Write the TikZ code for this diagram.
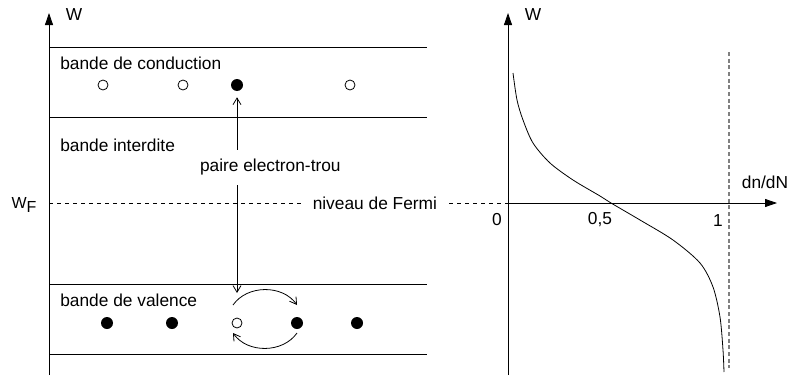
\documentclass[tikz,border=0pt]{standalone}
\usepackage{fontspec}
\setmainfont{Liberation Sans}
\usetikzlibrary{arrows.meta,calc}
\definecolor{DashGray}{RGB}{128,128,128}

\begin{document}
\begin{tikzpicture}[x=0.75pt,y=-0.75pt,
font=\fontsize{13}{15}\selectfont,
band/.style={draw,line width=0.6pt},
elec/.style={circle,fill=black,inner sep=0pt,minimum size=9pt},
hole/.style={circle,draw,fill=white,inner sep=0pt,minimum size=7.5pt,line width=0.6pt},
axis/.style={line width=0.6pt,-{Triangle[length=9pt,width=6pt]}},
barb/.style={line width=0.6pt,-{Straight Barb[length=5pt,width=6pt]}},
pair/.style={line width=0.6pt,{Straight Barb[length=5pt,width=6pt]}-{Straight Barb[length=5pt,width=6pt]}},
fermi/.style={line width=0.6pt,dash pattern=on 3pt off 3pt},
lab/.style={anchor=west,inner sep=0pt}
]
\useasboundingbox (0,0) rectangle (793,382);

% bandes
\draw[axis] (49,375) -- (49,13);
\node (w1) at (74,15) {W};
\draw[band] (49,47) -- (427,47);
\draw[band] (49,117) -- (427,117);
\draw[band] (49,284) -- (427,284);
\draw[band] (49,354) -- (427,354);
\node[lab] (cond) at (60,63) {bande de conduction};
\node[lab] (inter) at (60,145) {bande interdite};
\node[lab] (val) at (60,300) {bande de valence};

% electrons et trous
\foreach \x/\n in {103/1,183/2,350/4} \node[hole] (c\n) at (\x,85) {};
\node[elec] (c3) at (237,85) {};
\foreach \x/\n in {107/1,172/2,297/4,357/5} \node[elec] (v\n) at (\x,323) {};
\node[hole] (v3) at (237,323) {};

\coordinate (pbot) at (237,293);
\draw[pair,shorten <=4.5pt] (c3) -- node[pos=.376,xshift=25pt,fill=white,inner xsep=1pt,inner ysep=7pt] (pr) {paire electron-trou} (pbot);
\draw[barb] ([shift={(-4,-18)}]v3.center) to[bend left=55] ([shift={(0,-18)}]v4.center);
\draw[barb] ([shift={(0,10)}]v4.center) to[bend left=55] ([shift={(-4,10)}]v3.center);

% niveau de Fermi
\node (wf) at (24,205) {\fontsize{12}{14}\selectfont W\raisebox{-0.45ex}{F}};
\coordinate (f0) at (49,203);
\coordinate (o) at (508,203);
\draw[fermi] (f0) -- node[pos=.71,fill=white,inner xsep=6pt] (nf) {niveau de Fermi} (o);

% distribution
\draw[axis] (508,375) -- (508,13);
\node (w2) at (533,15) {W};
\draw[axis] (o) -- (777,203);
\node (dn) at (765,182) {dn/dN};
\node (t0) at (497,220) {0};
\node (t5) at (600,220) {0,5};
\node (t1) at (718,221) {1};
\draw[DashGray,line width=0.8pt,dash pattern=on 3pt off 2pt] (729,52) -- (729,368);
\draw[line width=0.6pt] plot[smooth] coordinates {(513,73) (517,100) (523,120) (533,143) (550,163) (573,180) (600,196) (611,203) (640,220) (673,240) (700,263) (713,287) (720,317) (723,350) (724,372)};
\end{tikzpicture}
\end{document}
